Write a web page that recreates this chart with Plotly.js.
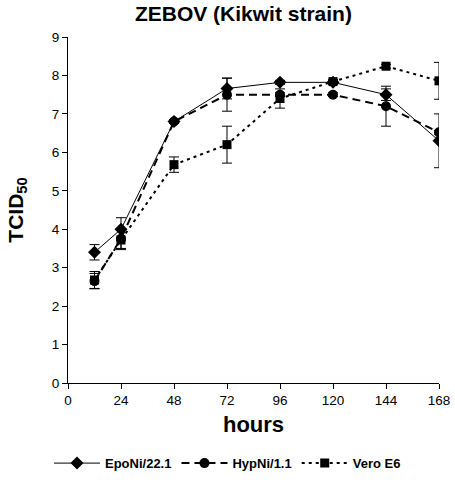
<!DOCTYPE html>
<html>
<head>
<meta charset="utf-8">
<script src="https://cdn.plot.ly/plotly-3.0.1.min.js"></script>
<style>html,body{margin:0;padding:0;background:#fff;}#chart{width:455px;height:486px;}</style>
</head>
<body>
<div id="chart"></div>
<script>
const hours = [12, 24, 48, 72, 96, 120, 144, 168];
const epoNi = [3.4, 4.0, 6.8, 7.66, 7.82, 7.82, 7.5, 6.3];
const epoNiErr = [0.2, 0.3, 0.05, 0.27, 0.05, 0.05, 0.15, 0.7];
const hypNi = [2.65, 3.75, 6.8, 7.5, 7.5, 7.5, 7.2, 6.52];
const hypNiErr = [0.2, 0.25, 0.05, 0.43, 0.05, 0.05, 0.52, 0.05];
const vero = [2.68, 3.72, 5.68, 6.2, 7.4, 7.84, 8.24, 7.86];
const veroErr = [0.22, 0.25, 0.2, 0.48, 0.25, 0.05, 0.05, 0.48];
const xTicks = [0, 24, 48, 72, 96, 120, 144, 168];
const yTicks = [0, 1, 2, 3, 4, 5, 6, 7, 8, 9];

function series(name, y, err, dash, width, symbol, size) {
  return {
    x: hours, y: y, name: name, type: 'scatter', mode: 'lines+markers',
    line: {color: '#000', dash: dash, width: width},
    marker: {color: '#000', symbol: symbol, size: size},
    error_y: {type: 'data', array: err, visible: true, color: '#000', thickness: 1, width: 5}
  };
}

const data = [
  series('EpoNi/22.1', epoNi, epoNiErr, 'solid', 1, 'diamond', 10),
  series('HypNi/1.1', hypNi, hypNiErr, '8px,5px', 2, 'circle', 10),
  series('Vero E6', vero, veroErr, '3px,4px', 2, 'square', 9)
];

const layout = {
  width: 455, height: 486,
  margin: {l: 68, r: 16, t: 37, b: 103},
  paper_bgcolor: '#fff', plot_bgcolor: '#fff',
  font: {family: 'Liberation Sans, Arial, sans-serif', color: '#000'},
  title: {text: '<b>ZEBOV (Kikwit strain)</b>', font: {size: 21, color: '#000'}, x: 0.535, xanchor: 'center', y: 0.972, yanchor: 'middle'},
  xaxis: {
    range: [0, 168], tickvals: xTicks, ticktext: xTicks.map(String),
    showline: true, linecolor: '#000', linewidth: 1, ticks: 'outside', ticklen: 5, tickcolor: '#000',
    showgrid: false, zeroline: false, tickfont: {size: 13.5},
    title: {text: '<b>hours</b>', font: {size: 22}, standoff: 9}
  },
  yaxis: {
    range: [0, 9], tickvals: yTicks, ticktext: yTicks.map(String),
    showline: true, linecolor: '#000', linewidth: 1, ticks: 'outside', ticklen: 5, tickcolor: '#000',
    showgrid: false, zeroline: false, tickfont: {size: 13.5},
    title: {text: '<b>TCID<sub>50</sub></b>', font: {size: 21}, standoff: 22}
  },
  showlegend: true,
  legend: {orientation: 'h', xref: 'container', yref: 'container', x: 0.5, xanchor: 'center', y: 0.047, yanchor: 'middle',
    font: {size: 13, weight: 'bold'}, itemwidth: 46, traceorder: 'normal'}
};

Plotly.newPlot('chart', data, layout, {displayModeBar: false});
</script>
</body>
</html>
